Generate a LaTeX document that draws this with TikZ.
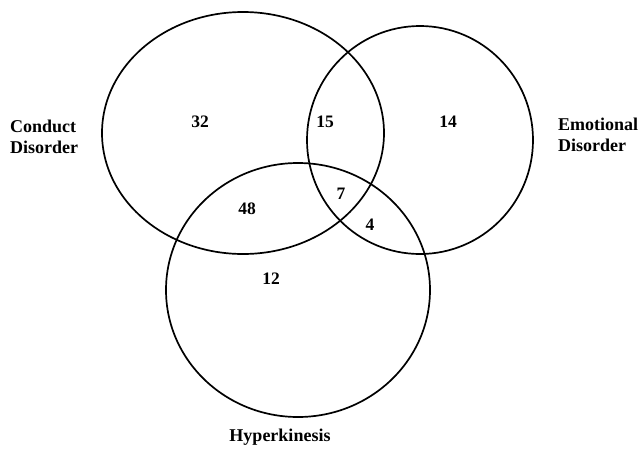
\documentclass[tikz,border=0pt]{standalone}
\usepackage{fontspec}
\setmainfont{Liberation Serif}
\begin{document}
\begin{tikzpicture}[x=1pt,y=-1pt,
  venn/.style={draw=black,line width=1.7pt},
  num/.style={font=\fontsize{17.5}{19}\selectfont\bfseries,inner sep=0pt},
  lab/.style={font=\fontsize{18}{21}\selectfont\bfseries,inner sep=0pt,align=left}]
\useasboundingbox (0,0) rectangle (641,448);
\fill[white] (0,0) rectangle (641,448);
\draw[venn] (243,133) ellipse [x radius=141pt, y radius=121pt];
\draw[venn] (420,140) ellipse [x radius=113pt, y radius=114pt];
\draw[venn] (298,290) ellipse [x radius=132pt, y radius=127pt];
\node[num] (n32) at (200,122) {32};
\node[num] (n15) at (325,122) {15};
\node[num] (n14) at (448,122) {14};
\node[num] (n48) at (247,209) {48};
\node[num] (n7) at (341,194) {7};
\node[num] (n4) at (370,225) {4};
\node[num] (n12) at (271,279) {12};
\node[lab,anchor=west] (cd) at (10,137) {Conduct\\Disorder};
\node[lab,anchor=west] (ed) at (558,135) {Emotional\\Disorder};
\node[lab] (hk) at (280,437) {Hyperkinesis};
\end{tikzpicture}
\end{document}
